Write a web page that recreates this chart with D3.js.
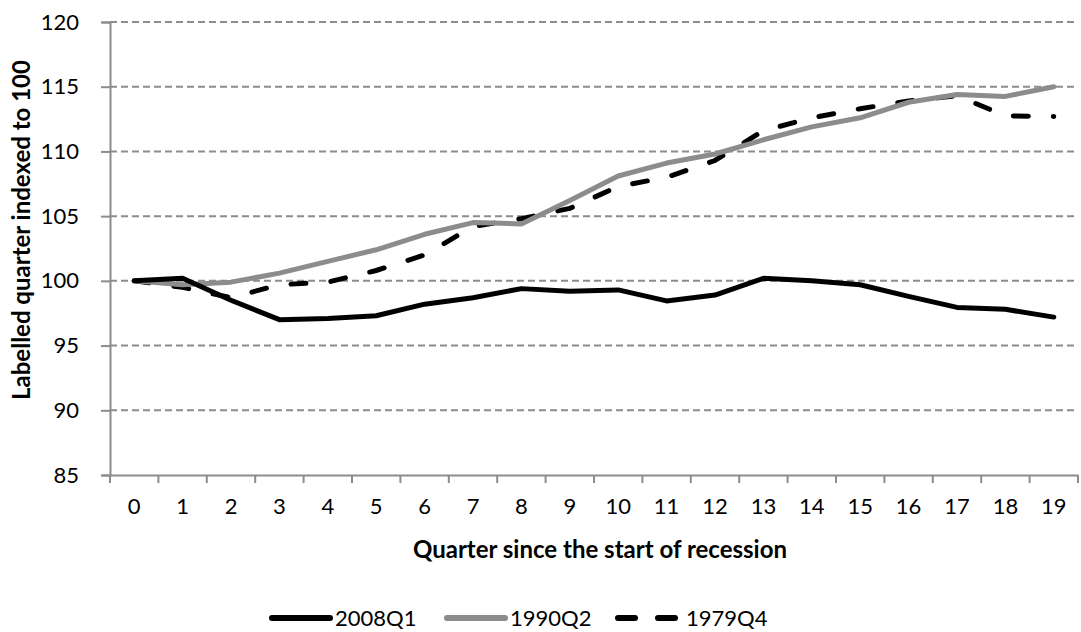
<!DOCTYPE html>
<html>
<head>
<meta charset="utf-8">
<script src="https://cdn.jsdelivr.net/npm/d3@7"></script>
<style>
  body { margin: 0; background: #fff; }
  text { font-family: Lato, "Open Sans", sans-serif; fill: #000; }
</style>
</head>
<body>
<div class="canva"></div>
<script>
// quarters since start of recession
const quarters = d3.range(0, 20);
const yTicks = [85, 90, 95, 100, 105, 110, 115, 120];

const s2008 = [100, 100.2, 98.5, 97.0, 97.1, 97.3, 98.2, 98.7, 99.4, 99.2,
  99.3, 98.45, 98.9, 100.2, 100.0, 99.7, 98.8, 97.95, 97.8, 97.2];
const s1990 = [100, 99.7, 99.9, 100.6, 101.5, 102.4, 103.6, 104.5, 104.4, 106.2,
  108.1, 109.1, 109.8, 110.9, 111.9, 112.6, 113.8, 114.4, 114.25, 115.0];
const s1979 = [100, 99.5, 98.7, 99.7, 99.9, 100.8, 102.0, 104.2, 104.8, 105.6,
  107.3, 108.0, 109.3, 111.6, 112.6, 113.3, 113.9, 114.3, 112.75, 112.7];

const seriesNames = ["2008Q1", "1990Q2", "1979Q4"];

const W = 1081, H = 632;
const mLeft = 110, mRight = 1078, mTop = 22, mBottom = 475;

const svg = d3.select(".canva").append("svg").attr("width", W).attr("height", H);

const x = d3.scaleBand().domain(quarters).range([mLeft, mRight]);
const y = d3.scaleLinear().domain([85, 120]).range([mBottom, mTop]);

// grid
svg.append("g")
  .selectAll("line")
  .data(yTicks.filter(d => d > 85))
  .join("line")
  .attr("x1", mLeft)
  .attr("x2", mRight)
  .attr("y1", d => y(d))
  .attr("y2", d => y(d))
  .attr("stroke", "#8c8c8c")
  .attr("stroke-width", 2)
  .attr("stroke-dasharray", "7,4");

// y axis
const yAxis = svg.append("g")
  .attr("transform", `translate(${mLeft},0)`)
  .call(d3.axisLeft(y).tickValues(yTicks).tickSize(8).tickPadding(23));
yAxis.select(".domain").attr("stroke", "#8c8c8c").attr("stroke-width", 2);
yAxis.selectAll(".tick line").attr("stroke", "#8c8c8c").attr("stroke-width", 2).attr("x2", -9);
yAxis.selectAll(".tick text").attr("font-size", 22).attr("font-family", "Lato");

// x axis
const xAxis = svg.append("g")
  .attr("transform", `translate(0,${mBottom})`)
  .call(d3.axisBottom(x).tickSize(0).tickPadding(23));
xAxis.select(".domain").attr("stroke", "#8c8c8c").attr("stroke-width", 2);
xAxis.selectAll(".tick text").attr("font-size", 22).attr("font-family", "Lato");
xAxis.selectAll("line.edge")
  .data(quarters.concat([20]))
  .join("line")
  .attr("class", "edge")
  .attr("x1", d => mLeft + d * x.step())
  .attr("x2", d => mLeft + d * x.step())
  .attr("y1", 0)
  .attr("y2", 8)
  .attr("stroke", "#8c8c8c")
  .attr("stroke-width", 2);

// axis titles
svg.append("text")
  .text("Quarter since the start of recession")
  .attr("x", 600)
  .attr("y", 558)
  .attr("text-anchor", "middle")
  .attr("font-size", 24)
  .attr("font-weight", "bold");

svg.append("text")
  .text("Labelled quarter indexed to 100")
  .attr("transform", "translate(30,230) rotate(-90)")
  .attr("text-anchor", "middle")
  .attr("font-size", 24)
  .attr("font-weight", "bold");

// lines
const line = d3.line()
  .x((d, i) => x(quarters[i]) + x.bandwidth() / 2)
  .y(d => y(d));

const styles = [
  { data: s2008, color: "#000", dash: null },
  { data: s1990, color: "#8c8c8c", dash: null },
  { data: s1979, color: "#000", dash: "15,25" }
];

// dashed first, then gray, then black on top
[styles[2], styles[1], styles[0]].forEach(s => {
  svg.append("path")
    .datum(s.data)
    .attr("d", line)
    .attr("fill", "none")
    .attr("stroke", s.color)
    .attr("stroke-width", 5)
    .attr("stroke-linejoin", "round")
    .attr("stroke-linecap", "round")
    .attr("stroke-dasharray", s.dash);
});

// legend
const legendX = [272, 447, 618];
seriesNames.forEach((name, i) => {
  const g = svg.append("g").attr("transform", `translate(${legendX[i]},618)`);
  g.append("line")
    .attr("x1", 0)
    .attr("x2", 58)
    .attr("stroke", styles[i].color)
    .attr("stroke-width", 6)
    .attr("stroke-linecap", "round")
    .attr("stroke-dasharray", styles[i].dash ? "17,23" : null);
  g.append("text")
    .text(name)
    .attr("x", i == 2 ? 68 : 63)
    .attr("y", 8)
    .attr("font-size", 22);
});
</script>
</body>
</html>
